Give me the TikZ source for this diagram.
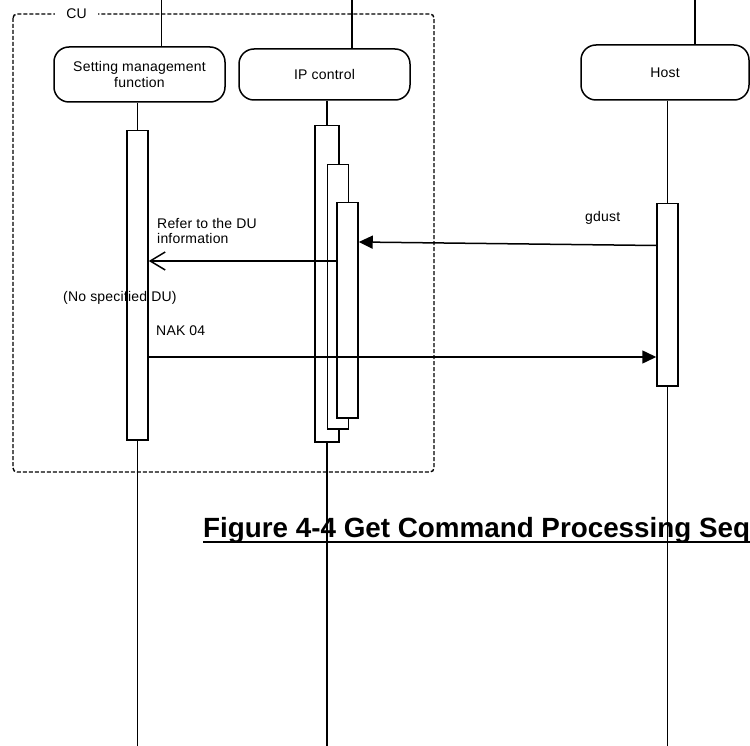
\documentclass[tikz,border=0pt]{standalone}
\usepackage{fontspec}
\setmainfont{Liberation Sans}
\newfontfamily\diagfont[LetterSpace=1.5]{Liberation Sans}
\usepackage{tikz}
\usetikzlibrary{arrows.meta, positioning}
\tikzstyle{lifebox} = [draw, line width=1.5pt, rounded corners=15pt, align=center, font=\diagfont\fontsize{14}{15.5}\selectfont]
\tikzstyle{actbar} = [draw, fill=white, line width=1.5pt, minimum width=21pt, inner sep=0pt, anchor=north]
\tikzstyle{lifeline} = [line width=1.5pt]
\tikzstyle{msgtext} = [inner sep=0pt, align=left, font=\diagfont\fontsize{14}{15.5}\selectfont]
\tikzstyle{synch} = [line width=1.5pt, -{Triangle[length=14pt, width=13pt]}]
\tikzstyle{reply} = [line width=1.5pt, -{Straight Barb[length=15pt, width=18pt, line width=1.5pt]}]
\tikzstyle{cubox} = [line width=1.4pt, dash pattern=on 4pt off 2pt, rounded corners=4pt]

\begin{document}
\begin{tikzpicture}[x=1pt, y=-1pt]
	\useasboundingbox (0,0) rectangle (750,746);
	% CU frame
	\draw[cubox] (13,14) rectangle (434,472);
	\node[fill=white, inner xsep=11pt, inner ysep=1pt, font=\diagfont\fontsize{14}{15.5}\selectfont] (cu) at (76.5,14) {CU};
	% title
	\node[anchor=base west, inner sep=0pt, font=\fontsize{27.8}{30}\selectfont\bfseries] (title) at (203,537) {Figure 4-4 Get Command Processing Seq};
	\draw[line width=2.8pt] ([yshift=-5pt]title.base west) -- ([yshift=-5pt]title.base east);
	% lifeline heads
	\node[lifebox, minimum width=171pt, minimum height=55pt] (smf) at (139.5,74.5) {Setting management\\function};
	\node[lifebox, minimum width=171pt, minimum height=51pt] (ipc) at (324.5,74.5) {IP control};
	\node[lifebox, minimum width=168pt, minimum height=55pt] (host) at (665,72.5) {Host};
	\coordinate (smftop) at (161.5,0);
	\coordinate (ipctop) at (352,0);
	\coordinate (hosttop) at (695,0);
	\coordinate (bottom) at (0,746);
	\draw[lifeline] (smftop) -- (smftop |- smf.north);
	\draw[lifeline] (ipctop) -- (ipctop |- ipc.north);
	\draw[lifeline] (hosttop) -- (hosttop |- host.north);
	% activation bars
	\node[actbar, minimum height=309pt] (smfbar) at (137.5,130) {};
	\node[actbar, minimum width=24pt, minimum height=316pt] (ipbarA) at (327,125) {};
	\node[actbar, minimum height=264pt] (ipbarB) at (338,164) {};
	\node[actbar, minimum height=215pt] (ipbarC) at (347.5,202) {};
	\node[actbar, minimum height=182pt] (hostbar) at (667.5,203) {};
	\draw[lifeline] (smfbar.north |- smf.south) -- (smfbar.north);
	\draw[lifeline] (ipbarA.north |- ipc.south) -- (ipbarA.north);
	\draw[lifeline] (hostbar.north |- host.south) -- (hostbar.north);
	\draw[lifeline] (smfbar.south) -- (smfbar.south |- bottom);
	\draw[lifeline] (ipbarA.south) -- (ipbarA.south |- bottom);
	\draw[lifeline] (hostbar.south) -- (hostbar.south |- bottom);
	% messages
	\draw[synch] (hostbar.west |- 0,245.5) -- (ipbarC.east |- 0,242);
	\node[msgtext, anchor=base west] (gdust) at (585,222) {gdust};
	\draw[reply] (ipbarC.west |- 0,261) -- (smfbar.east |- 0,261);
	\node[msgtext, anchor=north west] (refer) at (157,218) {Refer to the DU\\information};
	\node[msgtext, anchor=base west] (nodu) at (63,301.5) {(No specified DU)};
	\node[msgtext, anchor=base west] (nak) at (156,335) {NAK 04};
	\draw[synch] (smfbar.east |- 0,357) -- (hostbar.west |- 0,357);
\end{tikzpicture}
\end{document}
